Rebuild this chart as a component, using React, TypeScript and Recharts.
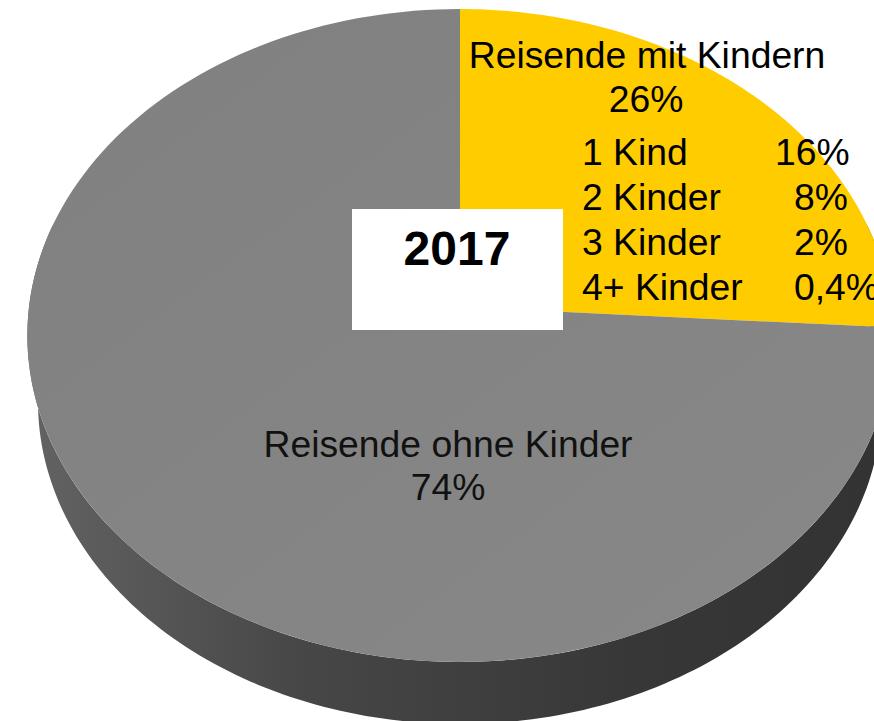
import { PieChart, Pie, Cell } from "recharts";

const groupNames = ["Reisende mit Kindern", "Reisende ohne Kinder"];
const groupShares = [26, 74];
const childLabels = ["1 Kind", "2 Kinder", "3 Kinder", "4+ Kinder"];
const childShares = ["16%", "8%", "2%", "0,4%"];
const yearLabel = "2017";

const chartData = groupNames.map((name, i) => ({ name, value: groupShares[i] }));

const FONT = "'Liberation Sans', Arial, sans-serif";
const LABEL_SIZE = 37.3;
const TILT = 324 / 431; // vertical squash of the disc
const PERSPECTIVE = 0.0873; // far side of the disc gets smaller
const WALL_DROP = 95; // bottom rim centre, below the pie centre
const STEPS = 160;

const rad = (deg: number) => (deg * Math.PI) / 180;

// top face of the disc, circle seen in perspective
function topPoint(cx: number, cy: number, r: number, deg: number) {
  const u = Math.cos(rad(deg));
  const v = Math.sin(rad(deg));
  const w = 1 + PERSPECTIVE * v;
  return [cx + (r * u) / w, cy - (r * TILT * v) / w];
}

// bottom rim, only the front part of it can be seen
function bottomPoint(cx: number, cy: number, r: number, deg: number) {
  return [
    cx + (r - 9) * Math.cos(rad(deg)),
    cy + WALL_DROP - (r - 109) * Math.sin(rad(deg)),
  ];
}

function sweep(from: number, to: number) {
  const out: number[] = [];
  for (let i = 0; i <= STEPS; i++) out.push(from + ((to - from) * i) / STEPS);
  return out;
}

function TopSlice(props: any) {
  const { cx, cy, outerRadius, startAngle, endAngle, fill } = props;
  const pts = sweep(startAngle, endAngle).map((a) => topPoint(cx, cy, outerRadius, a));
  const d = `M${cx},${cy}L` + pts.map((p) => p.join(",")).join("L") + "Z";
  return <path d={d} fill={fill} />;
}

function WallSlice(props: any) {
  const { cx, cy, outerRadius, startAngle, endAngle, fill } = props;
  // the wall shows between about 15 deg and -195 deg, the top face covers the rest
  const from = Math.min(startAngle, 15);
  const to = Math.max(endAngle, -195);
  if (from <= to) return null;
  const angles = sweep(from, to);
  const upper = angles.map((a) => topPoint(cx, cy, outerRadius, a));
  const lower = angles.map((a) => bottomPoint(cx, cy, outerRadius, a)).reverse();
  const d = "M" + [...upper, ...lower].map((p) => p.join(",")).join("L") + "Z";
  return <path d={d} fill={fill} />;
}

export default function App() {
  return (
    <div style={{ position: "absolute", left: 0, top: 0, width: 874, height: 721, overflow: "hidden", background: "#fff" }}>
      <PieChart width={874} height={721} margin={{ top: 0, right: 0, bottom: 0, left: 0 }}>
        <defs>
          <linearGradient id="wallShade" gradientUnits="userSpaceOnUse" x1="27" y1="0" x2="874" y2="0">
            <stop offset="0" stopColor="#636363" />
            <stop offset="0.32" stopColor="#474747" />
            <stop offset="0.72" stopColor="#373737" />
            <stop offset="1" stopColor="#333333" />
          </linearGradient>
          <linearGradient id="faceShade" x1="0" y1="0" x2="1" y2="1">
            <stop offset="0" stopColor="#808080" />
            <stop offset="1" stopColor="#888888" />
          </linearGradient>
        </defs>
        <Pie
          data={chartData}
          dataKey="value"
          nameKey="name"
          cx={460}
          cy={307}
          outerRadius={431}
          startAngle={90}
          endAngle={-270}
          stroke="none"
          isAnimationActive={false}
          shape={WallSlice}
        >
          <Cell fill="#8f7300" />
          <Cell fill="url(#wallShade)" />
        </Pie>
        <Pie
          data={chartData}
          dataKey="value"
          nameKey="name"
          cx={460}
          cy={307}
          outerRadius={431}
          startAngle={90}
          endAngle={-270}
          stroke="none"
          isAnimationActive={false}
          shape={TopSlice}
        >
          <Cell fill="#ffcc00" />
          <Cell fill="url(#faceShade)" />
        </Pie>
      </PieChart>
      <svg width={874} height={721} style={{ position: "absolute", left: 0, top: 0 }} fontFamily={FONT}>
        <rect x={352} y={209} width={211} height={121} fill="#fff" />
        <text x={457} y={265} fontSize={48} fontWeight="bold" textAnchor="middle" fill="#000">
          {yearLabel}
        </text>
        <text x={647} y={68} fontSize={LABEL_SIZE} textAnchor="middle" fill="#000">
          {groupNames[0]}
        </text>
        <text x={646} y={112} fontSize={LABEL_SIZE} textAnchor="middle" fill="#000">
          {groupShares[0]}%
        </text>
        {childLabels.map((label, i) => (
          <text key={label} x={582} y={165 + i * 44.9} fontSize={LABEL_SIZE} fill="#000">
            {label}
          </text>
        ))}
        {childShares.map((share, i) => (
          <text key={share} x={i === 0 ? 775 : 794} y={165 + i * 44.9} fontSize={LABEL_SIZE} fill="#000">
            {share}
          </text>
        ))}
        <text x={448} y={457} fontSize={LABEL_SIZE} textAnchor="middle" fill="#111">
          {groupNames[1]}
        </text>
        <text x={448} y={500} fontSize={LABEL_SIZE} textAnchor="middle" fill="#111">
          {groupShares[1]}%
        </text>
      </svg>
    </div>
  );
}
